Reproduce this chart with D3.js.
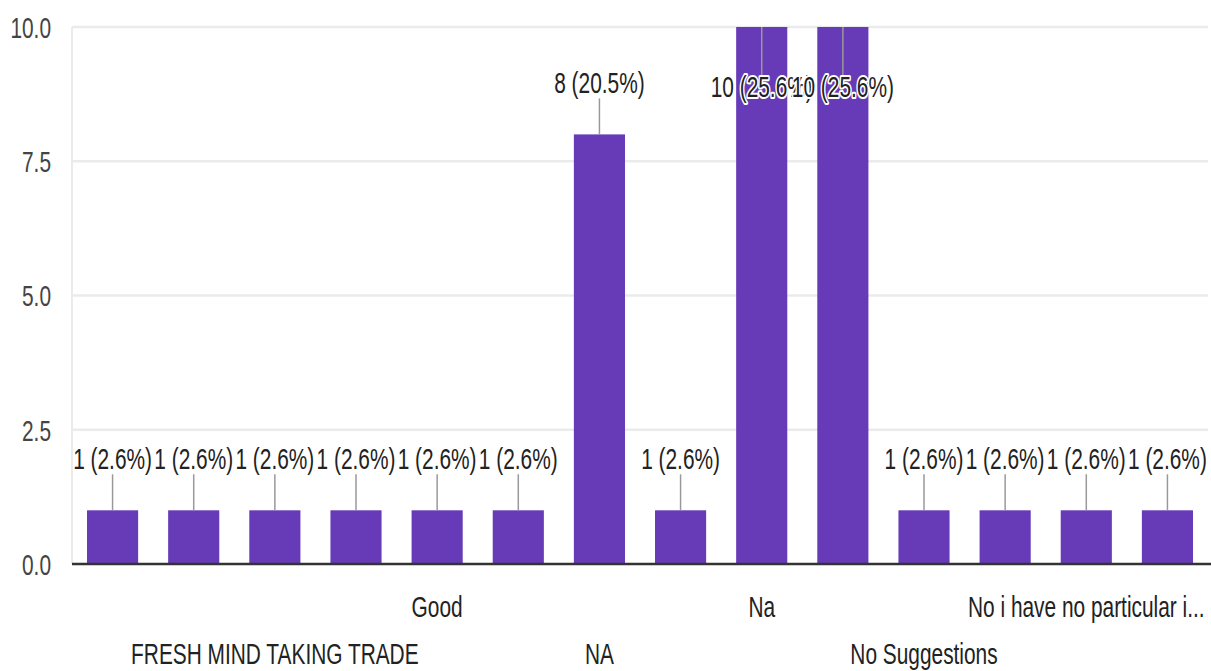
<!DOCTYPE html>
<html><head><meta charset="utf-8">
<script src="https://cdn.jsdelivr.net/npm/d3@7"></script>
<style>
body{margin:0;background:#fff}
svg{display:block}
text{font-family:"Liberation Sans",Arial,sans-serif}
</style></head>
<body><svg id="c" width="1211" height="671"></svg>
<script>
// ---- data ----
const categories = ["Response 1","Response 2","FRESH MIND TAKING TRADE","Response 4","Good","Response 6","NA","Response 8","Na","No","No Suggestions","Response 12","No i have no particular i...","Response 14"];
const counts = [1,1,1,1,1,1,8,1,10,10,1,1,1,1];
const yTicks = [0,2.5,5,7.5,10];
const shownTicks = [2,4,6,8,10,12];
const tickRows = [2,1,2,1,2,1];

// ---- layout ----
const SX = 0.72;
const svg = d3.select("#c");
const total = d3.sum(counts);
const x = d3.scaleBand().domain(d3.range(categories.length)).range([72,1208]).paddingInner(0.37).paddingOuter(0.185);
const y = d3.scaleLinear().domain([0,10]).range([564,27]);

// gridlines
svg.append("g").selectAll("line").data(yTicks.filter(t=>t>0)).join("line")
  .attr("x1",72).attr("x2",1208).attr("y1",d=>y(d)).attr("y2",d=>y(d))
  .attr("stroke","#ebebeb").attr("stroke-width",2.5);
svg.append("line").attr("x1",72).attr("x2",72).attr("y1",y(10)).attr("y2",y(0))
  .attr("stroke","#ebebeb").attr("stroke-width",2);

// y axis labels
const yAxis = d3.axisLeft(y).tickValues(yTicks).tickFormat(d3.format(".1f")).tickSize(0);
const ya = svg.append("g").attr("transform","translate(72,0)").call(yAxis);
ya.select(".domain").remove();
ya.selectAll("text").attr("x",-21/SX).attr("dy","0.36em")
  .attr("transform",`scale(${SX},1)`).attr("font-size",29).attr("fill","#444")
  .style("font-family",'"Liberation Sans",Arial,sans-serif');

// bars
svg.append("g").selectAll("rect").data(counts).join("rect")
  .attr("x",(d,i)=>x(i)).attr("width",x.bandwidth())
  .attr("y",d=>y(d)).attr("height",d=>y(0)-y(d))
  .attr("fill","#673ab7");

// baseline
svg.append("line").attr("x1",72).attr("x2",1211).attr("y1",y(0)).attr("y2",y(0))
  .attr("stroke","#333").attr("stroke-width",2.5);

// data labels with leaders
const lab = svg.append("g");
counts.forEach((v,i)=>{
  const cx = x(i)+x.bandwidth()/2;
  const top = y(v);
  const above = (top-63) >= y(10);
  const base = above ? top-41 : y(10)+70;
  const l1 = above ? top-36 : top;
  const l2 = above ? top : base-22;
  lab.append("line").attr("x1",cx).attr("x2",cx).attr("y1",l1).attr("y2",l2)
    .attr("stroke","#999").attr("stroke-width",1.5);
  lab.append("text").attr("transform",`translate(${cx},${base}) scale(${SX},1)`)
    .attr("text-anchor","middle").attr("font-size",29).attr("fill","#222")
    .attr("stroke","#fff").attr("stroke-width",4).attr("stroke-linejoin","round")
    .attr("paint-order","stroke")
    .text(`${v} (${(v/total*100).toFixed(1)}%)`);
});

// x axis labels
const xl = svg.append("g");
shownTicks.forEach((idx,k)=>{
  const cx = x(idx)+x.bandwidth()/2;
  const yy = tickRows[k]===1 ? 617 : 664;
  xl.append("text").attr("transform",`translate(${cx},${yy}) scale(${SX},1)`)
    .attr("text-anchor","middle").attr("font-size",29).attr("fill","#222")
    .text(categories[idx]);
});
</script></body></html>
